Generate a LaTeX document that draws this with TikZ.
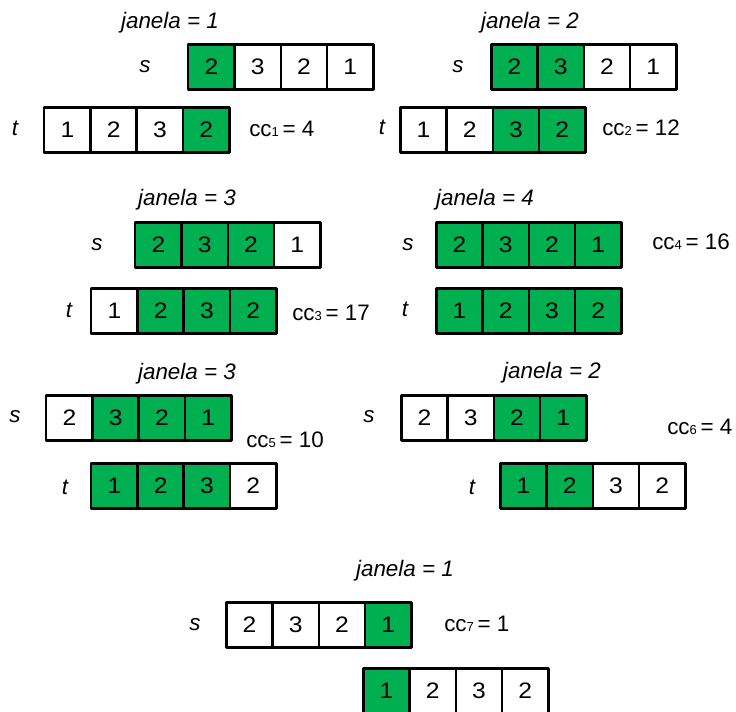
\documentclass[tikz,border=0pt]{standalone}
\usepackage{fontspec}
\setmainfont{Liberation Sans}
\newfontfamily\digitfont{Liberation Sans}[FakeStretch=1.1]
\definecolor{cellgreen}{RGB}{0,176,80}
\colorlet{G}{cellgreen}
\colorlet{W}{white}

% one row of four cells: name, outer left edge, outer top edge, value/fill list
\newcommand\cellrow[4]{%
  \foreach \v/\f [count=\i] in {#4} {
    \node[cellbox, fill=\f] (#1-\i) at ({#2+1.25+(\i-0.5)*46.25}, {#3+24}) {\v};
  }}
% cc label with a small index digit
\newcommand\ccval[2]{cc{\fontsize{9.75}{10}\selectfont #1}\,= #2}

\tikzset{
  basefont/.style={font=\fontsize{16.8}{20}\selectfont},
  cellbox/.style={font=\fontsize{16.8}{20}\digitfont, draw=black,
    line width=1.875pt, line join=round,
    rectangle, minimum width=34.69pt, minimum height=34.1pt, inner sep=0pt},
  varlab/.style={font=\fontsize{16.8}{20}\selectfont\itshape, inner sep=0pt},
  wintitle/.style={varlab, anchor=base},
  cclab/.style={basefont, inner sep=0pt, anchor=base west},
}

\begin{document}
\begin{tikzpicture}[x=0.75pt, y=-0.75pt]
  \useasboundingbox (0,0) rectangle (736,711);
  \clip (0,0) rectangle (736,711);

  % window 1
  \node[wintitle] (w1title) at (170,28) {janela = 1};
  \node[varlab] (w1s) at (145,67) {s};
  \cellrow{w1a}{187}{43}{2/G, 3/W, 2/W, 1/W}
  \node[varlab] (w1t) at (15,128) {t};
  \cellrow{w1b}{43}{106}{1/W, 2/W, 3/W, 2/G}
  \node[cclab] (w1cc) at (249,136) {\ccval{1}{4}};

  % window 2
  \node[wintitle] (w2title) at (530,28) {janela = 2};
  \node[varlab] (w2s) at (458,67) {s};
  \cellrow{w2a}{490}{43}{2/G, 3/G, 2/W, 1/W}
  \node[varlab] (w2t) at (382,127) {t};
  \cellrow{w2b}{399}{106}{1/W, 2/W, 3/G, 2/G}
  \node[cclab] (w2cc) at (602,135) {\ccval{2}{12}};

  % window 3
  \node[wintitle] (w3title) at (187,205) {janela = 3};
  \node[varlab] (w3s) at (97,245) {s};
  \cellrow{w3a}{134}{221}{2/G, 3/G, 2/G, 1/W}
  \node[varlab] (w3t) at (69,310) {t};
  \cellrow{w3b}{90}{287}{1/W, 2/G, 3/G, 2/G}
  \node[cclab] (w3cc) at (292,320) {\ccval{3}{17}};

  % window 4
  \node[wintitle] (w4title) at (485,205) {janela = 4};
  \node[varlab] (w4s) at (408,245) {s};
  \cellrow{w4a}{435}{221}{2/G, 3/G, 2/G, 1/G}
  \node[varlab] (w4t) at (405,309) {t};
  \cellrow{w4b}{435}{287}{1/G, 2/G, 3/G, 2/G}
  \node[cclab] (w4cc) at (652,249) {\ccval{4}{16}};

  % window 5
  \node[wintitle] (w5title) at (187,379) {janela = 3};
  \node[varlab] (w5s) at (15,417) {s};
  \cellrow{w5a}{45}{394}{2/W, 3/G, 2/G, 1/G}
  \node[varlab] (w5t) at (65,487) {t};
  \cellrow{w5b}{90}{462}{1/G, 2/G, 3/G, 2/W}
  \node[cclab] (w5cc) at (246,447) {\ccval{5}{10}};

  % window 6
  \node[wintitle] (w6title) at (552,378) {janela = 2};
  \node[varlab] (w6s) at (369,417) {s};
  \cellrow{w6a}{400}{394}{2/W, 3/W, 2/G, 1/G}
  \node[varlab] (w6t) at (472,487) {t};
  \cellrow{w6b}{499}{462}{1/G, 2/G, 3/W, 2/W}
  \node[cclab] (w6cc) at (667,434) {\ccval{6}{4}};

  % window 7
  \node[wintitle] (w7title) at (405,576) {janela = 1};
  \node[varlab] (w7s) at (195,625) {s};
  \cellrow{w7a}{225}{601}{2/W, 3/W, 2/W, 1/G}
  \node[cclab] (w7cc) at (444,631) {\ccval{7}{1}};
  \cellrow{w7b}{362}{667}{1/G, 2/W, 3/W, 2/W}
\end{tikzpicture}
\end{document}
